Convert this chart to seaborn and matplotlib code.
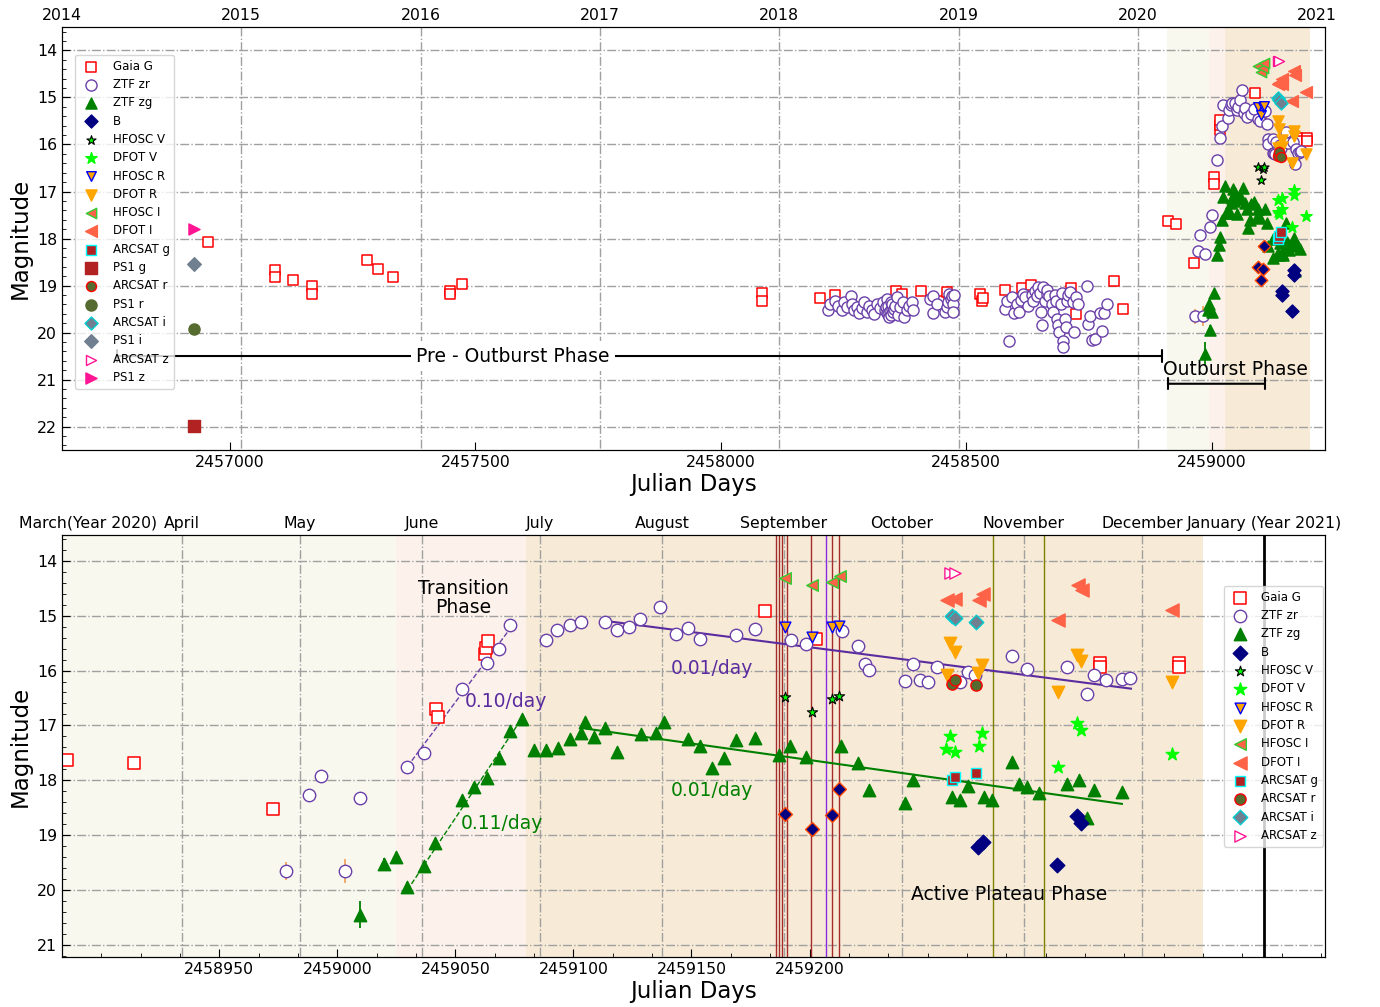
import numpy as np
import matplotlib
matplotlib.use("Agg")
import matplotlib.pyplot as plt
from matplotlib.ticker import MultipleLocator
import seaborn as sns

JD0 = 2458900.0   # outburst-season arrays are JD - JD0
JD1 = 2458000.0   # ZTF pre-outburst arrays are JD - JD1

# ---------------- pre-outburst data (top panel only region) ----------------
gaia_pre_jd = [2456956.5, 2457092.3, 2457092.3, 2457129.0, 2457167.7, 2457167.7, 2457279.7,
               2457302.1, 2457332.6, 2457448.7, 2457448.7, 2457473.2, 2458084.9, 2458084.9,
               2458202.3, 2458232.9, 2458357.1, 2458368.6, 2458408.0, 2458445.3, 2458460.3,
               2458528.2, 2458531.6, 2458535.0, 2458579.1, 2458613.0, 2458632.0, 2458713.5,
               2458723.7, 2458801.1, 2458818.7]
gaia_pre_mag = [18.08, 18.68, 18.81, 18.89, 19.02, 19.17, 18.45, 18.64, 18.81, 19.11, 19.19, 18.96,
                19.16, 19.33, 19.26, 19.21, 19.12, 19.19, 19.12, 19.33, 19.14, 19.19, 19.33, 19.26,
                19.09, 19.05, 18.98, 19.05, 19.60, 18.91, 19.50]

zr_pre_d = [218.0, 222.7, 232.9, 239.6, 246.4, 251.2, 256.6, 264.8, 266.8, 271.5, 277.0, 282.4,
            287.2, 291.9, 297.4, 302.8, 307.5, 312.3, 317.7, 324.5, 329.9, 334.7, 336.0, 338.1,
            339.0, 340.1, 341.5, 343.5, 344.8, 346.2, 347.0, 348.3, 350.0, 351.7, 353.0, 355.1,
            358.5, 361.8, 365.2, 370.7, 373.4, 378.8, 384.2, 389.0, 392.4, 426.3, 431.8, 433.1,
            441.3, 456.9, 460.3, 463.7, 465.7, 468.4, 471.1, 472.5, 473.9, 475.2,
            579.1, 582.5, 587.9, 592.7, 598.1, 602.9, 608.3, 611.0, 615.1, 619.8, 626.6, 633.4,
            636.8, 640.2, 643.6, 647.0, 650.4, 651.7, 653.8, 657.2, 660.6, 664.0, 665.3, 669.4,
            674.1, 677.5, 680.9, 683.0, 685.7, 687.7, 689.8, 692.5, 694.5, 696.6, 697.9, 701.3,
            703.3, 704.7, 708.1, 711.5, 716.9, 719.6, 723.7, 728.5, 745.4, 748.8, 752.2, 755.6,
            762.4, 772.6, 776.0, 780.7, 786.2]
zr_pre_mag = [19.52, 19.39, 19.32, 19.43, 19.52, 19.35, 19.46, 19.23, 19.39, 19.53, 19.45, 19.59,
              19.47, 19.35, 19.57, 19.43, 19.52, 19.60, 19.39, 19.47, 19.35, 19.53, 19.45, 19.28,
              19.58, 19.43, 19.60, 19.67, 19.55, 19.35, 19.62, 19.50, 19.40, 19.57, 19.50, 19.43,
              19.25, 19.62, 19.46, 19.35, 19.66, 19.53, 19.43, 19.35, 19.52, 19.28, 19.23, 19.59,
              19.39, 19.57, 19.46, 19.35, 19.18, 19.28, 19.23, 19.39, 19.57, 19.21,
              19.50, 19.33, 20.17, 19.25, 19.59, 19.39, 19.57, 19.30, 19.18, 19.25, 19.43, 19.21,
              19.33, 19.11, 19.23, 19.04, 19.16, 19.57, 19.83, 19.04, 19.32, 19.18, 19.09, 19.23,
              19.39, 19.57, 19.21, 19.32, 19.71, 19.85, 19.99, 19.39, 19.16, 20.17, 20.30, 19.71,
              19.89, 19.32, 19.21, 19.14, 19.35, 19.98, 19.25, 19.39, 19.02, 19.81, 19.64, 20.15,
              20.13, 19.59, 19.97, 19.59, 19.40]

# ---------------- outburst data (JD - JD0) ----------------
gaia_t = [11.3, 28.3, 63.7, 105.0, 105.5, 117.6, 117.8, 118.2, 188.8, 201.6, 273.8, 273.8, 293.8, 293.8]
gaia_mag = [17.63, 17.69, 18.53, 16.70, 16.84, 15.70, 15.59, 15.47, 14.91, 15.42, 15.86, 15.93, 15.86, 15.93]

zr_t = [66.9, 72.8, 75.9, 81.9, 85.8, 97.8, 101.9, 111.8, 118.0, 121.0, 123.9, 133.0, 135.8, 139.0,
        142.0, 148.1, 151.0, 154.0, 157.0, 162.1, 166.1, 169.1, 172.1, 181.2, 186.1, 195.4, 199.0,
        208.3, 212.3, 214.2, 215.1, 224.3, 226.2, 228.0, 230.2, 232.3, 238.2, 240.2, 242.0, 251.4,
        255.3, 265.4, 270.4, 272.4, 275.3, 279.4, 281.5]
zr_mag = [19.65, 18.27, 17.92, 19.65, 18.33, 17.75, 17.51, 16.33, 15.87, 15.61, 15.17, 15.44, 15.26,
          15.17, 15.12, 15.11, 15.27, 15.21, 15.06, 14.85, 15.34, 15.23, 15.42, 15.36, 15.25, 15.45,
          15.51, 15.28, 15.56, 15.88, 15.99, 16.19, 15.88, 16.18, 16.21, 15.94, 16.21, 16.02, 16.08,
          15.74, 15.97, 15.94, 16.42, 16.09, 16.18, 16.15, 16.13]
zr_err = [0.16, 0.05, 0.04, 0.22, 0.06, 0.04, 0.03, 0.03, 0.03, 0.03, 0.03, 0.03, 0.03, 0.03,
          0.03, 0.03, 0.03, 0.03, 0.03, 0.03, 0.03, 0.03, 0.03, 0.03, 0.03, 0.03, 0.03,
          0.03, 0.03, 0.03, 0.03, 0.03, 0.03, 0.03, 0.03, 0.03, 0.03, 0.03, 0.03, 0.03,
          0.03, 0.03, 0.03, 0.03, 0.03, 0.03, 0.03]

zg_t = [85.8, 91.9, 94.9, 97.8, 101.9, 104.9, 111.8, 114.8, 118.0, 121.0, 123.9, 126.9, 129.9, 133.0,
        136.0, 139.0, 142.0, 143.0, 145.1, 148.1, 151.1, 157.2, 161.0, 163.1, 169.1, 172.1, 175.1,
        178.2, 181.2, 186.2, 192.2, 195.1, 199.2, 208.1, 212.2, 215.1, 224.2, 226.2, 236.3, 238.2,
        240.2, 244.3, 246.4, 251.4, 253.3, 255.4, 258.4, 265.4, 268.4, 270.4, 272.4, 279.4]
zg_mag = [20.45, 19.53, 19.40, 19.95, 19.57, 19.15, 18.36, 18.13, 17.96, 17.60, 17.11, 16.88, 17.45,
          17.45, 17.41, 17.25, 17.13, 16.94, 17.21, 17.04, 17.48, 17.16, 17.14, 16.93, 17.24, 17.38,
          17.78, 17.60, 17.26, 17.23, 17.54, 17.38, 17.57, 17.37, 17.68, 18.17, 18.42, 18.00, 18.31,
          18.36, 18.10, 18.31, 18.36, 17.66, 18.07, 18.13, 18.24, 18.07, 17.99, 18.69, 18.17, 18.22]
zg_err = [0.25, 0.12, 0.10, 0.10, 0.10, 0.06, 0.05, 0.05, 0.04, 0.04, 0.04, 0.04, 0.04, 0.04,
          0.04, 0.04, 0.04, 0.04, 0.04, 0.04, 0.04, 0.04, 0.04, 0.04, 0.04, 0.04, 0.04,
          0.04, 0.04, 0.04, 0.04, 0.04, 0.04, 0.04, 0.04, 0.04, 0.04, 0.04, 0.04, 0.04,
          0.04, 0.04, 0.04, 0.04, 0.04, 0.04, 0.04, 0.04, 0.04, 0.04, 0.04, 0.04]

b_hfosc_t = [193.7, 200.6, 205.6, 207.5]
b_hfosc_mag = [18.61, 18.89, 18.64, 18.16]
b_dfot_t = [242.9, 244.0, 263.0, 267.9, 268.9]
b_dfot_mag = [19.21, 19.12, 19.55, 18.66, 18.77]

v_hfosc_t = [193.7, 200.6, 205.6, 207.5]
v_hfosc_mag = [16.48, 16.75, 16.52, 16.47]
v_dfot_t = [234.8, 235.8, 236.9, 243.1, 243.9, 263.1, 268.0, 268.9, 292.1]
v_dfot_mag = [17.43, 17.19, 17.48, 17.38, 17.14, 17.75, 16.96, 17.08, 17.52]

r_hfosc_t = [193.7, 200.6, 205.6, 207.5]
r_hfosc_mag = [15.21, 15.38, 15.21, 15.18]
r_dfot_t = [235.0, 235.8, 236.9, 242.9, 243.9, 263.1, 268.0, 268.9, 292.1]
r_dfot_mag = [16.08, 15.50, 15.67, 16.05, 15.90, 16.40, 15.71, 15.82, 16.20]

i_hfosc_t = [193.8, 200.7, 205.6, 207.7]
i_hfosc_mag = [14.32, 14.45, 14.38, 14.27]
i_dfot_t = [235.0, 237.1, 243.0, 244.0, 263.1, 268.3, 269.2, 292.2]
i_dfot_mag = [14.71, 14.70, 14.71, 14.61, 15.08, 14.44, 14.53, 14.89]

arc_t = [236.1, 237.1, 242.2]
arc_g = [18.00, 17.94, 17.86]
arc_r = [16.24, 16.17, 16.26]
arc_i = [15.01, 15.05, 15.11]
arc_z_t = [235.6, 236.9]
arc_z = [14.22, 14.22]

ps1_jd = [2456926.0]
ps1_g = [21.99]
ps1_r = [19.92]
ps1_i = [18.54]
ps1_z = [17.79]

# linear-rate fits (start, end)
fit_zr_rise_t, fit_zr_rise_mag = [97.8, 125.0], [17.75, 15.13]
fit_zg_rise_t, fit_zg_rise_mag = [97.8, 127.0], [20.00, 16.86]
fit_zr_plat_t, fit_zr_plat_mag = [149.7, 281.7], [15.11, 16.33]
fit_zg_plat_t, fit_zg_plat_mag = [143.3, 279.4], [17.06, 18.43]

# epochs of vertical markers (JD - JD0)
hfosc_epochs = [191.4, 192.2, 192.9, 194.2, 200.5, 205.6, 207.4]
purple_epoch = [204.3]
olive_epochs = [246.6, 259.6]

# calendar
year_labels = ['2014', '2015', '2016', '2017', '2018', '2019', '2020', '2021']
year_jd = [2456658.5, 2457023.5, 2457388.5, 2457754.5, 2458119.5, 2458484.5, 2458849.5, 2459215.5]
month_labels = ['April', 'May', 'June', 'July', 'August', 'September', 'October', 'November',
                'December', 'January (Year 2021)']
month_jd = [2458940.5, 2458970.5, 2459001.5, 2459031.5, 2459062.5, 2459093.5, 2459123.5,
            2459154.5, 2459184.5, 2459215.5]
bottom_tick_pos = [2458950, 2458980, 2459010, 2459040, 2459070, 2459100]
bottom_tick_labels = ['2458950', '2459000', '2459050', '2459100', '2459150', '2459200']
top_tick_pos = [2457000, 2457500, 2458000, 2458500, 2459000]

# phases (JD)
phase_edges = [2458910, 2458995, 2459028, 2459200]
phase_colors = ['#f9f8ee', '#fcf2eb', '#f7ebd7']
pre_outburst_span = [2456770, 2458899]
outburst_span = [2458911, 2459108.6]


def T(t):
    return np.asarray(t, dtype=float) + JD0


def D(d):
    return np.asarray(d, dtype=float) + JD1


def draw(ax, scale, with_ps1):
    H = {}

    def pts(name, x, y, marker, s, fc, ec, lw=1.0, z=3, key=None):
        sns.scatterplot(x=np.asarray(x), y=np.asarray(y), ax=ax, marker=marker, s=s * scale,
                        color=fc, facecolors=fc, edgecolor=ec, linewidth=lw, zorder=z,
                        label=(name if key is None else '_nolegend_'), legend=False)
        if key is None:
            H[name] = ax.collections[-1]

    # shading
    for i in range(3):
        ax.axvspan(phase_edges[i], phase_edges[i + 1], color=phase_colors[i], zorder=0, lw=0)

    # errorbars
    ax.errorbar(T(zr_t), zr_mag, yerr=zr_err, fmt='none', ecolor='sandybrown', elinewidth=1.3, zorder=2)
    ax.errorbar(T(zg_t), zg_mag, yerr=zg_err, fmt='none', ecolor='green', elinewidth=1.3, zorder=2)

    gx = np.concatenate([gaia_pre_jd, T(gaia_t)])
    gy = np.concatenate([gaia_pre_mag, gaia_mag])
    pts('Gaia G', gx, gy, 's', 72, 'white', 'red', lw=1.1)
    zx = np.concatenate([D(zr_pre_d), T(zr_t)])
    zy = np.concatenate([zr_pre_mag, zr_mag])
    pts('ZTF zr', zx, zy, 'o', 80, 'white', '#6a40a8', lw=1.0)
    pts('ZTF zg', T(zg_t), zg_mag, '^', 80, 'green', 'green')
    pts('B', T(b_dfot_t), b_dfot_mag, 'D', 55, 'navy', 'navy')
    pts('B', T(b_hfosc_t), b_hfosc_mag, 'D', 50, 'navy', 'orangered', key='hb')
    pts('HFOSC V', T(v_hfosc_t), v_hfosc_mag, '*', 60, 'lime', 'black', lw=0.8)
    pts('DFOT V', T(v_dfot_t), v_dfot_mag, '*', 90, 'lime', 'lime')
    pts('HFOSC R', T(r_hfosc_t), r_hfosc_mag, 'v', 60, 'orange', 'blue')
    pts('DFOT R', T(r_dfot_t), r_dfot_mag, 'v', 80, 'orange', 'orange')
    pts('HFOSC I', T(i_hfosc_t), i_hfosc_mag, '<', 70, 'tomato', 'limegreen')
    pts('DFOT I', T(i_dfot_t), i_dfot_mag, '<', 90, 'tomato', 'tomato')
    pts('ARCSAT g', T(arc_t), arc_g, 's', 55, 'firebrick', 'cyan')
    pts('ARCSAT r', T(arc_t), arc_r, 'o', 65, 'darkolivegreen', 'red')
    pts('ARCSAT i', T(arc_t), arc_i, 'D', 55, 'slategray', 'darkturquoise')
    pts('ARCSAT z', T(arc_z_t), arc_z, '>', 65, 'white', 'deeppink')
    if with_ps1:
        pts('PS1 g', ps1_jd, ps1_g, 's', 80, 'firebrick', 'firebrick')
        pts('PS1 r', ps1_jd, ps1_r, 'o', 80, 'darkolivegreen', 'darkolivegreen')
        pts('PS1 i', ps1_jd, ps1_i, 'D', 60, 'slategray', 'slategray')
        pts('PS1 z', ps1_jd, ps1_z, '>', 80, 'deeppink', 'deeppink')
    return H


fig = plt.figure(figsize=(13.8, 10.07), dpi=100)
ax1 = fig.add_axes([0.0449, 0.5531, 0.9152, 0.4201])
ax2 = fig.add_axes([0.0449, 0.0497, 0.9152, 0.4190])

grid_kw = dict(color='#a0a0a0', ls='-.', lw=1.0)

# ---------------- top panel ----------------
H1 = draw(ax1, 0.8, True)
ax1.set_xlim(2456658, 2459231)
ax1.set_ylim(22.5, 13.5)
ax1.vlines(year_jd[1:7], 13.5, 22.5, zorder=0.5, **grid_kw)
ax1.set_yticks(range(14, 23))
ax1.grid(axis='y', which='major', zorder=0.5, **grid_kw)
ax1.set_axisbelow(True)
ax1.set_xticks(top_tick_pos)
ax1.set_xticklabels([str(v) for v in top_tick_pos])
ax1.yaxis.set_minor_locator(MultipleLocator(0.2))
ax1.tick_params(which='both', direction='in', labelsize=11.3)
ax1.tick_params(which='minor', length=3)
ax1.tick_params(which='major', length=6)
ax1.set_xlabel('Julian Days', fontsize=16.5, labelpad=2)
ax1.set_ylabel('Magnitude', fontsize=16.5)

ax1.annotate('', xy=(pre_outburst_span[1], 20.5), xytext=(pre_outburst_span[0], 20.5),
             arrowprops=dict(arrowstyle='|-|, widthA=0.4, widthB=0.4', lw=1.5, color='black',
                             shrinkA=0, shrinkB=0), zorder=2)
ax1.text(2457577, 20.5, 'Pre - Outburst Phase', ha='center', va='center', fontsize=13.5,
         bbox=dict(boxstyle='square,pad=0.3', fc='white', ec='none'), zorder=2.5)
ax1.text(2459049.6, 20.79, 'Outburst Phase', ha='center', va='center', fontsize=13.5, zorder=2.5)
ax1.annotate('', xy=(outburst_span[1], 21.09), xytext=(outburst_span[0], 21.09),
             arrowprops=dict(arrowstyle='|-|, widthA=0.4, widthB=0.4', lw=1.5, color='black',
                             shrinkA=0, shrinkB=0), zorder=2)

order1 = ['Gaia G', 'ZTF zr', 'ZTF zg', 'B', 'HFOSC V', 'DFOT V', 'HFOSC R', 'DFOT R', 'HFOSC I',
          'DFOT I', 'ARCSAT g', 'PS1 g', 'ARCSAT r', 'PS1 r', 'ARCSAT i', 'PS1 i', 'ARCSAT z', 'PS1 z']
leg1 = ax1.legend([H1[k] for k in order1], order1, loc='upper left', bbox_to_anchor=(0.0103, 0.934),
                  borderaxespad=0, fontsize=8.5, labelspacing=0.45, handletextpad=0.8, borderpad=0.4)
leg1.set_zorder(5)

ax1t = ax1.twiny()
ax1t.set_xlim(ax1.get_xlim())
ax1t.set_xticks(year_jd)
ax1t.set_xticklabels(year_labels)
ax1t.tick_params(direction='in', length=0, labelsize=11.3, pad=3)

# ---------------- bottom panel ----------------
H2 = draw(ax2, 1.0, False)
ax2.set_xlim(2458910, 2459231)
ax2.set_ylim(21.22, 13.53)
ax2.vlines(month_jd[:-1], 13.53, 21.22, zorder=0.5, **grid_kw)
ax2.set_yticks(range(14, 22))
ax2.grid(axis='y', which='major', zorder=0.5, **grid_kw)
ax2.set_axisbelow(True)
ax2.vlines(T(hfosc_epochs), 13.53, 21.22, color='brown', lw=1.0, zorder=1.5)
ax2.vlines(T(purple_epoch), 13.53, 21.22, color='blueviolet', lw=1.0, zorder=1.5)
ax2.vlines(T(olive_epochs), 13.53, 21.22, color='olive', lw=1.0, zorder=1.5)
ax2.vlines([month_jd[-1]], 13.53, 21.22, color='black', lw=2.0, zorder=1.5)

sns.lineplot(x=T(fit_zr_rise_t), y=fit_zr_rise_mag, ax=ax2, color='#6a40a8', lw=1.0, ls='--', legend=False, zorder=2.5)
sns.lineplot(x=T(fit_zg_rise_t), y=fit_zg_rise_mag, ax=ax2, color='green', lw=1.0, ls='--', legend=False, zorder=2.5)
sns.lineplot(x=T(fit_zr_plat_t), y=fit_zr_plat_mag, ax=ax2, color='#5b2c9f', lw=1.5, legend=False, zorder=2.5)
sns.lineplot(x=T(fit_zg_plat_t), y=fit_zg_plat_mag, ax=ax2, color='green', lw=1.5, legend=False, zorder=2.5)

ax2.text(T(112.0), 14.67, 'Transition\nPhase', ha='center', va='center', fontsize=13.5, linespacing=1.0)
ax2.text(T(122.9), 16.57, '0.10/day', ha='center', va='center', fontsize=13.5, color='#5b2c9f')
ax2.text(T(121.9), 18.79, '0.11/day', ha='center', va='center', fontsize=13.5, color='green')
ax2.text(T(175.1), 15.97, '0.01/day', ha='center', va='center', fontsize=13.5, color='#5b2c9f')
ax2.text(T(175.1), 18.19, '0.01/day', ha='center', va='center', fontsize=13.5, color='green')
ax2.text(T(250.7), 20.09, 'Active Plateau Phase', ha='center', va='center', fontsize=13.5)

ax2.set_xticks(bottom_tick_pos)
ax2.set_xticklabels(bottom_tick_labels)
ax2.xaxis.set_minor_locator(MultipleLocator(10))
ax2.yaxis.set_minor_locator(MultipleLocator(0.2))
ax2.tick_params(which='both', direction='in', labelsize=11.3)
ax2.tick_params(which='minor', length=3)
ax2.tick_params(which='major', length=6)
ax2.set_xlabel('Julian Days', fontsize=16.5, labelpad=2)
ax2.set_ylabel('Magnitude', fontsize=16.5)

order2 = [k for k in order1 if not k.startswith('PS1')]
ax2.legend([H2[k] for k in order2], order2, loc='upper right', bbox_to_anchor=(0.9985, 0.879),
           borderaxespad=0, fontsize=8.5, labelspacing=0.45, handletextpad=0.8, borderpad=0.4)

ax2t = ax2.twiny()
ax2t.set_xlim(ax2.get_xlim())
ax2t.set_xticks(month_jd)
ax2t.set_xticklabels(month_labels)
ax2t.tick_params(direction='in', length=0, labelsize=11.3, pad=3)
ax2t.annotate('March(Year 2020)', xy=(0.0206, 1.0), xycoords='axes fraction', xytext=(0, 3),
              textcoords='offset points', ha='center', va='bottom', fontsize=11.3)

fig.savefig('out.png', dpi=100)
